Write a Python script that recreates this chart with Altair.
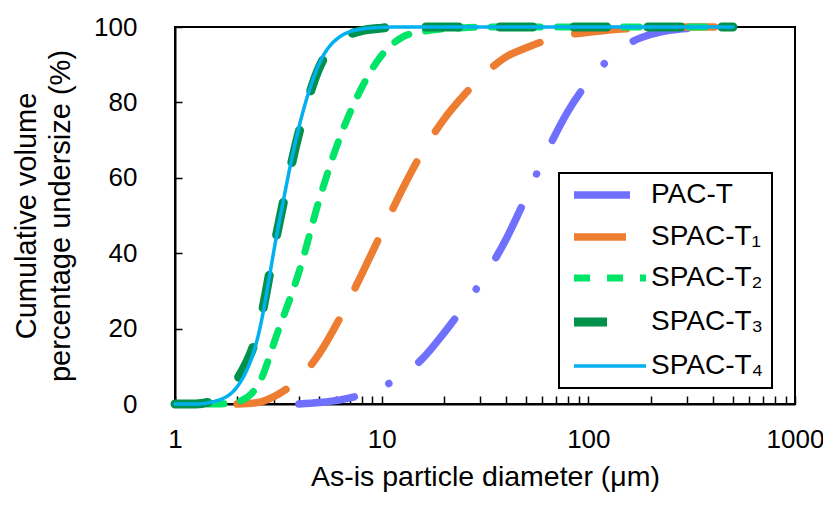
import altair as alt
import pandas as pd

# particle size grid (µm)
sizes = [1.0, 1.26, 1.58, 2.0, 2.51, 3.16, 3.98, 5.01, 6.31, 7.94,
         10.0, 12.6, 15.8, 20.0, 25.1, 31.6, 39.8, 50.1, 63.1, 79.4,
         100.0, 126.0, 158.0, 200.0, 251.0, 316.0, 398.0, 501.0]

series_names = ["PAC-T", "SPAC-T\u2081", "SPAC-T\u2082", "SPAC-T\u2083", "SPAC-T\u2084"]

pac_t = [None, None, None, None, None, None, 0.0, 0.4, 1.1, 2.4,
         4.5, 7.6, 12.1, 18.8, 26.0, 34.0, 43.5, 55.0, 67.0, 77.5,
         85.5, 91.5, 95.7, 98.0, 99.2, 99.7, 99.9, 100.0]
spac_t1 = [None, None, None, 0.0, 0.4, 2.6, 6.7, 13.5, 23.0, 34.0,
           45.5, 57.0, 67.0, 75.5, 82.0, 87.6, 92.0, 94.5, 96.5, 97.9,
           98.6, 99.2, 99.6, 99.85, 100.0, 100.0, 100.0, 100.0]
spac_t2 = [0.0, 0.0, 0.0, 0.6, 4.8, 19.5, 35.0, 54.5, 71.0, 83.5,
           92.5, 97.3, 98.8, 99.5, 99.8, 100.0, 100.0, 100.0, 100.0, 100.0,
           100.0, 100.0, 100.0, 100.0, 100.0, 100.0, 100.0, 100.0]
spac_t3 = [0.0, 0.0, 1.2, 6.5, 19.0, 47.0, 72.0, 89.5, 96.5, 99.0,
           99.7, 100.0, 100.0, 100.0, 100.0, 100.0, 100.0, 100.0, 100.0, 100.0,
           100.0, 100.0, 100.0, 100.0, 100.0, 100.0, 100.0, 100.0]
spac_t4 = [0.0, 0.0, 0.8, 4.6, 17.5, 47.0, 73.5, 90.5, 97.5, 99.4,
           99.9, 100.0, 100.0, 100.0, 100.0, 100.0, 100.0, 100.0, 100.0, 100.0,
           100.0, 100.0, 100.0, 100.0, 100.0, 100.0, 100.0, 100.0]

x_tick_labels = [1, 10, 100, 1000]
x_minor_ticks = [2, 3, 4, 5, 6, 7, 8, 9, 20, 30, 40, 50, 60, 70, 80, 90,
                 200, 300, 400, 500, 600, 700, 800, 900]
y_tick_labels = [0, 20, 40, 60, 80, 100]

colors = ["#7070FF", "#ED7D31", "#00E467", "#00914A", "#00B0F0"]
dashes = [[56, 37, 0.001, 37], [52, 36], [16, 17], [33, 41], [1, 0]]
widths = [7.5, 7.5, 7, 9, 3.5]

rows = []
for name, vals in zip(series_names, [pac_t, spac_t1, spac_t2, spac_t3, spac_t4]):
    for s, v in zip(sizes, vals):
        if v is not None:
            rows.append({"series": name, "size": s, "value": v})
df = pd.DataFrame(rows)

FONT = "Liberation Sans"
xscale = alt.Scale(type="log", domain=[1, 1000], nice=False)
yscale = alt.Scale(domain=[0, 100], nice=False, zero=True)

lines = alt.Chart(df).mark_line(
    interpolate="monotone", strokeCap="round", strokeJoin="round"
).encode(
    x=alt.X("size:Q", scale=xscale,
            axis=alt.Axis(values=x_tick_labels, format="d", ticks=False,
                          labelFlush=False, labelOverlap=False, labelBound=False,
                          labelPadding=22, title="As-is particle diameter (\u03bcm)",
                          titleFontSize=28.5, titlePadding=10, orient="bottom")),
    y=alt.Y("value:Q", scale=yscale,
            axis=alt.Axis(values=y_tick_labels, ticks=False, labelPadding=38,
                          labelFlush=False, labelOverlap=False,
                          title=["Cumulative volume", "percentage undersize (%)"],
                          titleFontSize=29, titleLineHeight=34, titlePadding=18,
                          orient="left")),
    color=alt.Color("series:N", scale=alt.Scale(domain=series_names, range=colors),
                    legend=alt.Legend(title=None)),
    strokeDash=alt.StrokeDash("series:N", scale=alt.Scale(domain=series_names, range=dashes),
                              legend=alt.Legend(title=None)),
    strokeWidth=alt.StrokeWidth("series:N",
                                scale=alt.Scale(type="ordinal", domain=series_names, range=widths),
                                legend=alt.Legend(title=None)),
)

ticks_x = alt.Chart(df).mark_point(opacity=0).encode(
    x=alt.X("size:Q", scale=xscale,
            axis=alt.Axis(values=x_minor_ticks + x_tick_labels, labels=False, domain=False,
                          title=None, tickSize=8, offset=-8, orient="bottom",
                          tickColor="black", tickWidth=1.5)),
    y=alt.Y("value:Q", scale=yscale, axis=None),
)

ticks_y = alt.Chart(df).mark_point(opacity=0).encode(
    x=alt.X("size:Q", scale=xscale, axis=None),
    y=alt.Y("value:Q", scale=yscale,
            axis=alt.Axis(values=y_tick_labels, labels=False, domain=False,
                          title=None, tickSize=7, offset=-7, orient="left",
                          tickColor="black", tickWidth=1.5)),
)

chart = alt.layer(lines, ticks_x, ticks_y).resolve_axis(
    x="independent", y="independent"
).properties(
    width=620, height=377,
    padding={"left": 167, "top": 19, "right": 28, "bottom": 89},
    autosize=alt.AutoSizeParams(type="none"),
).configure_view(
    stroke="black", strokeWidth=2
).configure_axis(
    labelFont=FONT, labelFontSize=26, labelColor="black",
    titleFont=FONT, titleFontWeight="normal", titleColor="black",
    domainColor="black", domainWidth=2, grid=False,
).configure_legend(
    orient="none", legendX=384, legendY=146,
    strokeColor="black", strokeWidth=2, fillColor="white",
    padding=8, labelFont=FONT, labelFontSize=28, labelColor="black",
    labelAlign="left",
    symbolType="M-6,0H6", symbolSize=144, symbolOffset=29,
    rowPadding=12, labelOffset=27, labelLimit=0,
)

chart.save("out.html", embed_options={"renderer": "svg", "actions": False})
